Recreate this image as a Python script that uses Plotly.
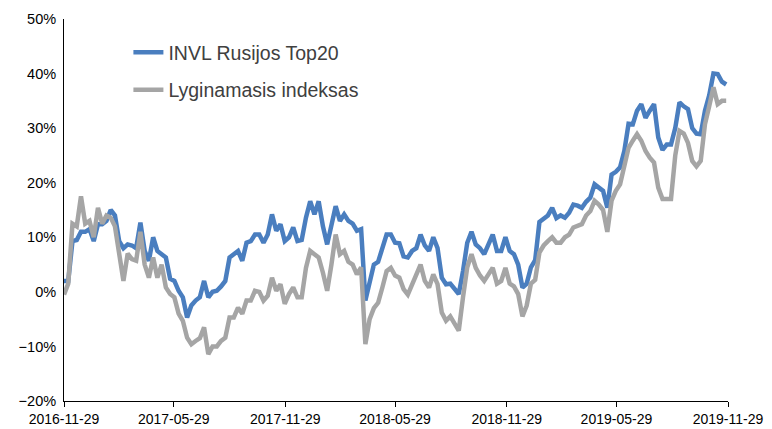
import plotly.graph_objects as go
import pandas as pd

# Weekly observations starting 2016-11-29 (values in %)
start_date = "2016-11-29"
invl_top20 = [
    2, 2, 9.3, 9.5, 11, 11, 11.5, 9.3, 12.4, 12.4,
    13, 15, 14, 9.3, 8, 8.7, 8.5, 8, 12.7, 7.5,
    5.7, 10, 7.5, 6.9, 6.3, 2.4, 2, 0.2, -1, -4.7,
    -2.5, -1.6, -1, 2, -1, 0, 0.2, 1, 2, 6.3,
    6.9, 7.5, 5.7, 9, 9.3, 10.5, 10.5, 9, 10.5, 14.2,
    11.2, 12.4, 9.3, 10, 11.8, 9.3, 9.5, 13.6, 16.6, 14.2,
    16.6, 12, 8.7, 12.4, 15.7, 13, 14.2, 13, 12.5, 11.2,
    11.5, -1.6, 2, 5, 5.5, 8, 10.5, 10.5, 9, 8.9,
    6.5, 6.3, 7.5, 8, 10.5, 8.5, 7.5, 10, 8, 2.6,
    1.4, 1.5, 0.5, -0.4, 3.8, 9, 11, 8.7, 8, 6.9,
    8.7, 10.5, 7.5, 7.5, 10, 7.5, 6.9, 5, 0.8, 1.5,
    4.5, 5.8, 12.8, 13.5, 14, 15.4, 13.5, 14, 13.6, 14.5,
    16, 15.8, 15.4, 16.5, 17.3, 19.7, 19, 18.5, 15.4, 21.5,
    22, 22.8, 25.8, 30.8, 30.7, 33.2, 34.4, 31.9, 33.2, 34.4,
    28.3, 26, 27, 27, 30, 34.7, 34, 33.5, 30, 29,
    28.9, 33.2, 36, 40, 39.9, 38.5, 38,
]
benchmark = [
    -0.5, 1.5, 12.5, 12, 17.5, 12.5, 13, 10, 15.4, 12.5,
    14, 13.6, 12, 6.9, 2, 7, 6, 5.7, 11, 5,
    2.6, 6.3, 2.6, 5, 0.8, -0.4, -1, -4, -5.3, -8.4,
    -9.6, -9, -8.5, -6.5, -11.4, -10, -10, -9, -8.4, -4.7,
    -4.7, -2.9, -4, -1.6, -1.6, 0.2, 0, -1.6, -0.7, 2.6,
    0.2, 1.4, -2.2, -0.4, 0.8, -1, -1, 4.4, 7.5, 6.9,
    6.3, 3.5, 0.2, 5, 10.5, 6.9, 7.5, 5.5, 5, 3.2,
    4.5, -9.6, -5, -3, -2, 0.8, 3.8, 4.4, 3, 2.6,
    0.5, -0.5, 1.4, 3.2, 5, 2, 0.8, 3.2, 1.4, -3.8,
    -5.3, -4.5, -6, -7.1, -1, 4.5, 6.9, 4.4, 3, 2,
    3.2, 4.4, 1.5, 2, 4.4, 1.5, 1, -0.4, -4.5, -2.5,
    1.5, 2.2, 7.2, 8.5, 9.3, 10, 9, 9, 10, 10.5,
    11.8, 12, 12.4, 14, 14.8, 16.7, 16, 15, 11, 16.7,
    18.5, 19.7, 22.8, 26.4, 27.7, 28.9, 27.7, 25.8, 24.6, 23.7,
    19.1, 17, 17, 17, 25, 29.5, 29, 27.3, 24, 23,
    24, 30.7, 34, 37.5, 34.4, 35, 35,
]
tick_dates = ["2016-11-29", "2017-05-29", "2017-11-29", "2018-05-29",
              "2018-11-29", "2019-05-29", "2019-11-29"]
series_names = ["INVL Rusijos Top20", "Lyginamasis indeksas"]

dates = pd.date_range(start_date, periods=len(invl_top20), freq="7D")

fig = go.Figure()
fig.add_trace(go.Scatter(x=dates, y=invl_top20, mode="lines", name=series_names[0],
                         legendgroup="a",
                         line=dict(color="#4a7ebf", width=4.5)))
fig.add_trace(go.Scatter(x=dates, y=benchmark, mode="lines", name=series_names[1],
                         legendgroup="b",
                         line=dict(color="#a5a5a5", width=4.5)))

fig.update_layout(
    width=772, height=429,
    margin=dict(l=64, r=44, t=19, b=28, autoexpand=False),
    paper_bgcolor="white", plot_bgcolor="white",
    font=dict(family="Liberation Sans, Arial, sans-serif", color="#000000", size=14),
    showlegend=True,
    legend=dict(x=0.097, y=0.963, xanchor="left", yanchor="top",
                font=dict(size=19.5, color="#404040"),
                bgcolor="rgba(0,0,0,0)", traceorder="grouped", tracegroupgap=9),
    xaxis=dict(type="date", range=["2016-11-29", "2019-11-29"],
               tickvals=tick_dates, ticktext=tick_dates, automargin=False,
               showline=True, linecolor="black", linewidth=1,
               ticks="outside", ticklen=5, tickcolor="black",
               showgrid=False, zeroline=False,
               tickfont=dict(size=14)),
    yaxis=dict(range=[-20, 50], dtick=10, ticksuffix="%", automargin=False,
               showline=True, linecolor="black", linewidth=1,
               ticks="outside", ticklen=4, tickcolor="rgba(0,0,0,0)",
               showgrid=False, zeroline=False,
               tickfont=dict(size=14.5)),
)

fig.write_html("out.html", config={"displayModeBar": False},
               post_script="document.body.style.margin='0';document.body.style.overflow='hidden';")
